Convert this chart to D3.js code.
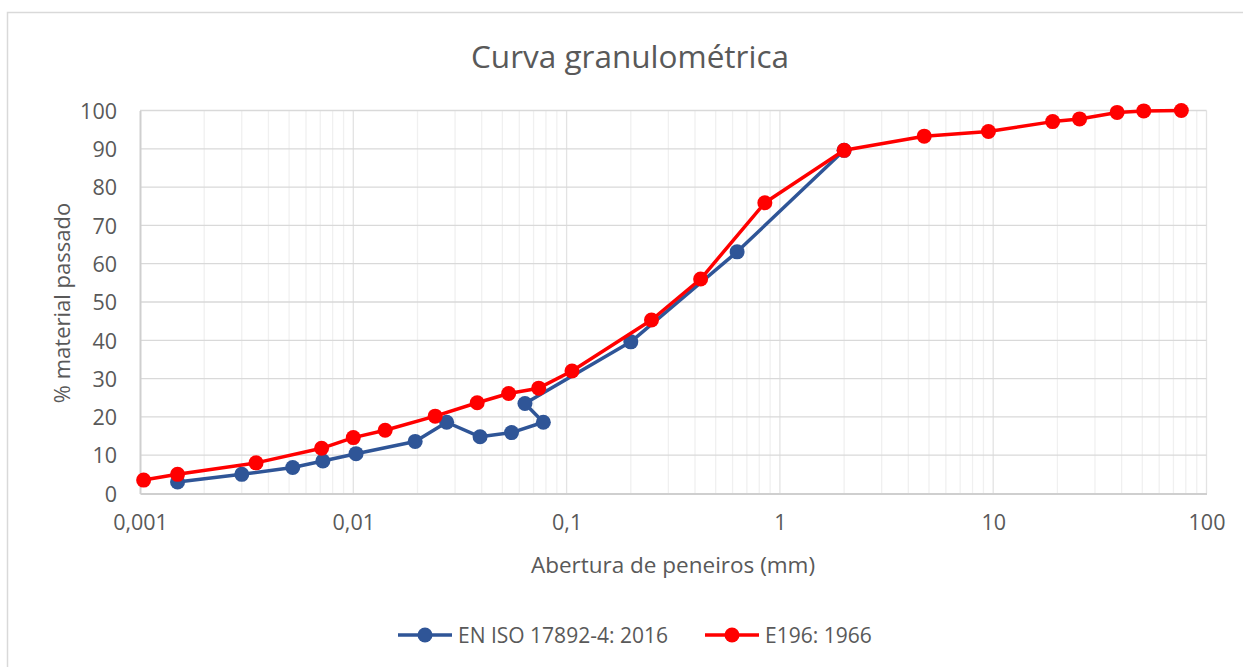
<!DOCTYPE html>
<html>
<head>
<meta charset="utf-8">
<script src="https://cdn.jsdelivr.net/npm/d3@7"></script>
<style>
  body { margin: 0; background: #fff; }
  text { font-family: "Open Sans", sans-serif; fill: #595959; }
</style>
</head>
<body>
<div id="svg-container"></div>
<script>
// data
var isoSizes   = [0.0015, 0.003, 0.0052, 0.0072, 0.0103, 0.0195, 0.0274, 0.0393, 0.0552, 0.0778, 0.0638, 0.2, 0.63, 2];
var isoPassing = [3.0, 5.0, 6.8, 8.5, 10.4, 13.6, 18.6, 14.8, 15.9, 18.6, 23.5, 39.6, 63.1, 89.6];

var e196Sizes   = [0.00104, 0.0015, 0.0035, 0.0071, 0.01, 0.0141, 0.0242, 0.0381, 0.0535, 0.074, 0.106, 0.25, 0.425, 0.85, 2, 4.75, 9.5, 19, 25.4, 38.1, 50.8, 76.2];
var e196Passing = [3.5, 5.0, 8.0, 11.8, 14.6, 16.5, 20.2, 23.7, 26.1, 27.5, 32.0, 45.3, 56.0, 75.9, 89.6, 93.3, 94.5, 97.1, 97.8, 99.5, 99.9, 100];

var seriesNames  = ["EN ISO 17892-4: 2016", "E196: 1966"];
var seriesColors = ["#2f5597", "#ff0000"];
var xTickValues  = [0.001, 0.01, 0.1, 1, 10, 100];
var xTickLabels  = ["0,001", "0,01", "0,1", "1", "10", "100"];
var yTickValues  = [0, 10, 20, 30, 40, 50, 60, 70, 80, 90, 100];

var W = 1243, H = 667;
var margin = {top: 110.5, right: 36.5, bottom: 173.5, left: 140},
  width = W - margin.left - margin.right,
  height = H - margin.top - margin.bottom;

var svgRoot = d3.select("#svg-container")
  .append("svg")
  .attr("width", W)
  .attr("height", H);

// chart frame
svgRoot.append("rect")
  .attr("x", 7.5).attr("y", 12.5)
  .attr("width", W).attr("height", H)
  .attr("fill", "none")
  .attr("stroke", "#d9d9d9")
  .attr("stroke-width", 1.5);

var svg = svgRoot.append("g")
  .attr("transform", "translate(" + margin.left + "," + margin.top + ")");

var x = d3.scaleLog().domain([0.001, 100]).range([0, width]);
var y = d3.scaleLinear().domain([0, 100]).range([height, 0]);

// minor vertical gridlines
var minorTicks = [];
xTickValues.slice(0, -1).forEach(function(d) {
  for (var k = 2; k <= 9; k++) minorTicks.push(d * k);
});
svg.append("g").selectAll("line")
  .data(minorTicks)
  .enter().append("line")
  .attr("x1", d => x(d)).attr("x2", d => x(d))
  .attr("y1", 0).attr("y2", height)
  .attr("stroke", "#f0f0f0")
  .attr("stroke-width", 1.3);

// major vertical gridlines
svg.append("g").selectAll("line")
  .data(xTickValues.slice(1))
  .enter().append("line")
  .attr("x1", d => x(d)).attr("x2", d => x(d))
  .attr("y1", 0).attr("y2", height)
  .attr("stroke", "#e3e3e3")
  .attr("stroke-width", 1.3);

// horizontal gridlines
svg.append("g").selectAll("line")
  .data(yTickValues.slice(1))
  .enter().append("line")
  .attr("x1", 0).attr("x2", width)
  .attr("y1", d => y(d)).attr("y2", d => y(d))
  .attr("stroke", "#d9d9d9")
  .attr("stroke-width", 1.3);

// axes
var xAxis = svg.append("g")
  .attr("transform", "translate(0," + height + ")")
  .call(d3.axisBottom(x).tickValues(xTickValues).tickSize(0).tickPadding(21)
    .tickFormat((d, i) => xTickLabels[i]));
var yAxis = svg.append("g")
  .call(d3.axisLeft(y).tickValues(yTickValues).tickSize(0).tickPadding(23));

[xAxis, yAxis].forEach(function(a) {
  a.select(".domain").attr("stroke", "#cfcfcf").attr("stroke-width", 2);
  a.selectAll("text").attr("font-size", 21.5).attr("fill", "#595959")
    .attr("font-family", "Open Sans, sans-serif");
});
yAxis.selectAll("text").attr("dy", "0.36em");

// series
var series = [
  {name: seriesNames[0], color: seriesColors[0], pts: isoSizes.map((s, i) => [s, isoPassing[i]])},
  {name: seriesNames[1], color: seriesColors[1], pts: e196Sizes.map((s, i) => [s, e196Passing[i]])}
];

var line = d3.line().x(d => x(d[0])).y(d => y(d[1]));

series.forEach(function(s) {
  var g = svg.append("g");
  g.append("path")
    .datum(s.pts)
    .attr("d", line)
    .attr("fill", "none")
    .attr("stroke", s.color)
    .attr("stroke-width", 3.5)
    .attr("stroke-linejoin", "round");
  g.selectAll("circle")
    .data(s.pts)
    .enter().append("circle")
    .attr("cx", d => x(d[0]))
    .attr("cy", d => y(d[1]))
    .attr("r", 7.5)
    .attr("fill", s.color);
});

// title and axis titles
svgRoot.append("text")
  .attr("x", 630).attr("y", 68)
  .attr("text-anchor", "middle")
  .attr("font-size", 31.5)
  .text("Curva granulométrica");

svgRoot.append("text")
  .attr("x", 673).attr("y", 573)
  .attr("text-anchor", "middle")
  .attr("font-size", 22.5)
  .text("Abertura de peneiros (mm)");

svgRoot.append("text")
  .attr("transform", "translate(70,303) rotate(-90)")
  .attr("text-anchor", "middle")
  .attr("font-size", 22)
  .text("% material passado");

// legend
var legendX = [398, 705];
series.forEach(function(s, i) {
  var lg = svgRoot.append("g").attr("transform", "translate(" + legendX[i] + ",635)");
  lg.append("line").attr("x1", 0).attr("x2", 54)
    .attr("stroke", s.color).attr("stroke-width", 3.5);
  lg.append("circle").attr("cx", 27).attr("r", 7.5).attr("fill", s.color);
  lg.append("text").attr("x", 60).attr("dy", "0.36em")
    .attr("font-size", 21).text(s.name);
});
</script>
</body>
</html>
